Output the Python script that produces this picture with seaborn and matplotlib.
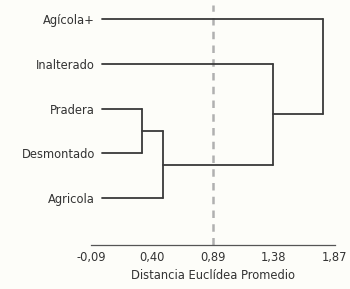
import matplotlib
matplotlib.use("Agg")
import matplotlib.pyplot as plt
import seaborn as sns
import pandas as pd

# Data
leaves = ["Agícola+", "Inalterado", "Pradera", "Desmontado", "Agricola"]
merge_a = ["Pradera", "c1", "Inalterado", "Agícola+"]
merge_b = ["Desmontado", "Agricola", "c2", "c3"]
merge_names = ["c1", "c2", "c3", "c4"]
merge_heights = [0.32, 0.49, 1.37, 1.77]
cut_value = 0.89
tick_values = [-0.09, 0.40, 0.89, 1.38, 1.87]
tick_labels = ["-0,09", "0,40", "0,89", "1,38", "1,87"]
xlabel = "Distancia Euclídea Promedio"

sns.set_style("white")
plt.rcParams['font.family'] = ['DejaVu Sans']

# positions of nodes
ypos = {name: len(leaves) - i for i, name in enumerate(leaves)}
xpos = {name: 0.0 for name in leaves}
rows = []
seg = 0
for a, b, nm, h in zip(merge_a, merge_b, merge_names, merge_heights):
    for child in (a, b):
        rows.append(dict(x=xpos[child], y=ypos[child], seg=seg))
        rows.append(dict(x=h, y=ypos[child], seg=seg))
        seg += 1
    rows.append(dict(x=h, y=ypos[a], seg=seg))
    rows.append(dict(x=h, y=ypos[b], seg=seg))
    seg += 1
    xpos[nm] = h
    ypos[nm] = (ypos[a] + ypos[b]) / 2
df = pd.DataFrame(rows)

fig = plt.figure(figsize=(3.5, 2.89), dpi=100, facecolor="#fdfdf9")
ax = fig.add_axes([0.26, 0.152, 0.697, 0.83])
ax.set_facecolor("#fdfdf9")

ax.axvline(cut_value, color="#b0b0b0", lw=1.8, ls=(0, (3, 2.5)), zorder=1)
sns.lineplot(data=df, x="x", y="y", units="seg", estimator=None, sort=False,
             color="#3a3a3a", lw=1.3, ax=ax, zorder=2)

ax.set_xlim(-0.09, 1.87)
ax.set_ylim(-0.04, 5.3)
ax.set_xticks(tick_values)
ax.set_xticklabels(tick_labels, fontsize=8.3, color="#333333")
ax.set_yticks([ypos[n] for n in leaves])
ax.set_yticklabels(leaves, fontsize=8.3, color="#333333")
ax.tick_params(axis="y", length=0, pad=-3)
ax.tick_params(axis="x", length=4, direction="inout", width=0.8, color="#555555", pad=2)
ax.set_xlabel(xlabel, fontsize=8.3, color="#333333", labelpad=4)
ax.set_ylabel("")
for s in ["top", "right", "left"]:
    ax.spines[s].set_visible(False)
ax.spines["bottom"].set_color("#555555")
ax.spines["bottom"].set_linewidth(0.9)

fig.savefig("out.png", dpi=100, facecolor=fig.get_facecolor())
